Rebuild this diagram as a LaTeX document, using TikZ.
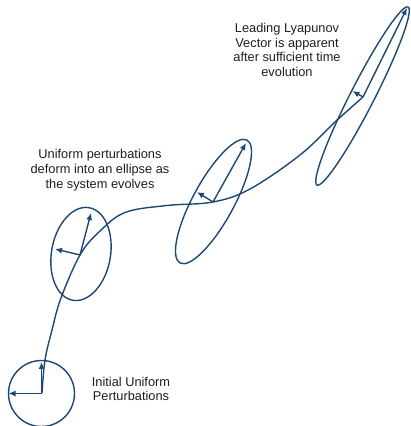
\documentclass[tikz,border=0pt]{standalone}
\usepackage{fontspec}
\setmainfont{Liberation Sans}
\usetikzlibrary{arrows.meta}
\definecolor{lblue}{RGB}{28,72,118}
\definecolor{txt}{RGB}{30,30,30}
\begin{document}
\begin{tikzpicture}[x=1pt,y=1pt,
  curve/.style={draw=lblue,line width=1.4pt},
  vec/.style={draw=lblue,line width=1.4pt,-{Latex[length=7pt,width=6pt]}},
  lbl/.style={align=center,text=txt,font=\fontsize{12.8}{14.8}\selectfont,inner sep=0pt}]
\useasboundingbox (0,0) rectangle (410,426);
% ellipse centers and vector origins
\coordinate (c1) at (41.5,32.5);
\coordinate (c2) at (81,172);
\coordinate (o2) at (80,171);
\coordinate (c3) at (213.5,224.5);
\coordinate (o3) at (213,224);
\coordinate (c4) at (362.5,330);
\coordinate (o4) at (363,329);
% vector tips
\coordinate (t1a) at (41.5,64);
\coordinate (t1b) at (8.5,32.5);
\coordinate (t2a) at (91,213);
\coordinate (t2b) at (55,177);
\coordinate (t3a) at (246,283);
\coordinate (t3b) at (197,234);
\coordinate (t4a) at (407,418);
\coordinate (t4b) at (352.5,335);
% shapes
\draw[curve] (c1) circle (33);
\draw[curve,rotate around={80:(c2)}] (c2) ellipse (47 and 29.5);
\draw[curve,rotate around={61.4:(c3)}] (c3) ellipse (70 and 20.5);
\draw[curve,rotate around={62.9:(c4)}] (c4) ellipse (100 and 12);
% trajectory
\draw[curve] plot[smooth,tension=0.6] coordinates {(42,33) (45,66) (52,96) (61,128) (80,171) (99,194) (125,213.5) (167,220.5) (213,224) (250,237) (300,271) (335,304) (363,329)};
% vectors
\draw[vec] (c1) -- (t1a);
\draw[vec] (c1) -- (t1b);
\draw[vec] (o2) -- (t2a);
\draw[vec] (o2) -- (t2b);
\draw[vec] (o3) -- (t3a);
\draw[vec] (o3) -- (t3b);
\draw[vec] (o4) -- (t4a);
\draw[vec] (o4) -- (t4b);
% labels
\node[lbl] (l1) at (287,376) {Leading Lyapunov\\Vector is apparent\\after sufficient time\\evolution};
\node[lbl] (l2) at (100,256) {Uniform perturbations\\deform into an ellipse as\\the system evolves};
\node[lbl] (l3) at (131,37) {Initial Uniform\\Perturbations};
\end{tikzpicture}
\end{document}
